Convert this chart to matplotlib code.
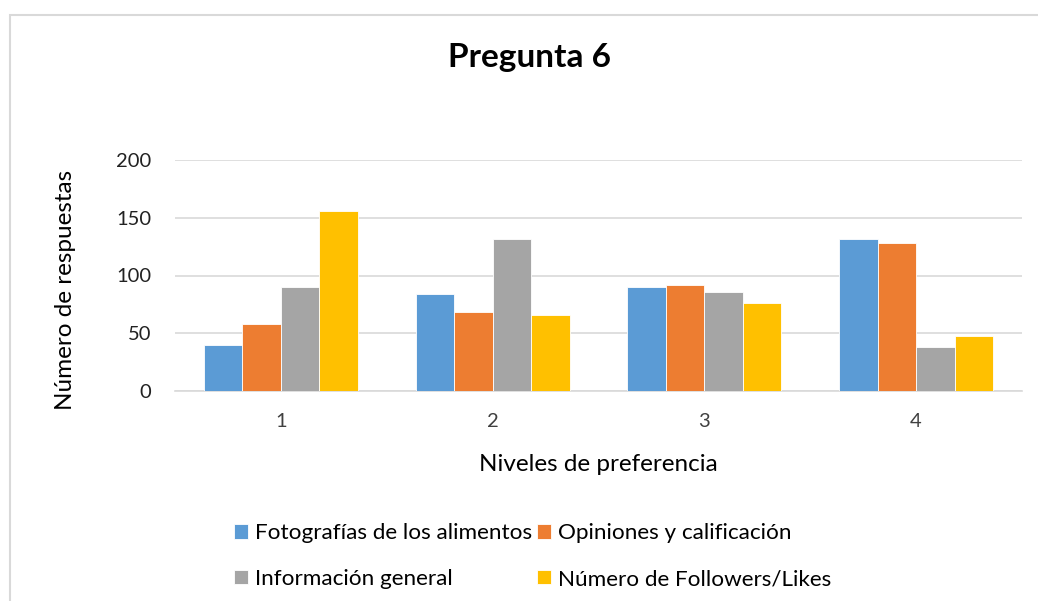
import matplotlib.pyplot as plt
import numpy as np
from matplotlib.patches import Rectangle

plt.rcParams['font.family'] = ['Lato', 'DejaVu Sans']

niveles = ['1', '2', '3', '4']
series = ['Fotografías de los alimentos', 'Opiniones y calificación',
          'Información general', 'Número de Followers/Likes']
fotografias = [40, 84, 90, 132]
opiniones = [58, 68, 92, 128]
informacion = [90, 132, 86, 38]
followers = [156, 66, 76, 48]
colores = ['#5B9BD5', '#ED7D31', '#A5A5A5', '#FFC000']

valores = [fotografias, opiniones, informacion, followers]

fig = plt.figure(figsize=(10.38, 6.01), dpi=100)
ax = fig.add_axes([175 / 1038, 1 - 391 / 601, 847 / 1038, 231 / 601])

x = np.arange(len(niveles))
w = 0.182
barras = []
for i, (vals, nombre, c) in enumerate(zip(valores, series, colores)):
    b = ax.bar(x + (i - 1.5) * w, vals, width=w, color=c, label=nombre,
               edgecolor='white', linewidth=0.6, zorder=3)
    barras.append(b)

ax.set_xlim(-0.5, 3.5)
ax.set_ylim(0, 200)
ax.set_yticks([0, 50, 100, 150, 200])
ax.set_xticks(x)
ax.set_xticklabels(niveles)
ax.grid(axis='y', color='#d9d9d9', linewidth=1.2, zorder=0)
for s in ['top', 'right', 'left']:
    ax.spines[s].set_visible(False)
ax.spines['bottom'].set_color('#d9d9d9')
ax.spines['bottom'].set_linewidth(1.2)
ax.tick_params(axis='y', length=0, pad=17, labelsize=14.5, labelcolor='#222222')
ax.tick_params(axis='x', length=0, pad=16, labelsize=14.5, labelcolor='#404040')

ax.set_ylabel('Número de respuestas', fontsize=17.5)
ax.yaxis.set_label_coords((76 - 175) / 847, (391 - 290) / 231)
ax.set_xlabel('Niveles de preferencia', fontsize=17.5, labelpad=17)

fig.text(530 / 1038, 1 - 58 / 601, 'Pregunta 6', ha='center', va='center',
         fontsize=24, fontweight='bold')

# fila por fila como en Excel
orden = [0, 2, 1, 3]
fig.legend([barras[i] for i in orden], [series[i] for i in orden],
           loc='upper left', bbox_to_anchor=(223 / 1038, 1 - 512 / 601),
           ncol=2, frameon=False, fontsize=16.2, handlelength=0.62,
           handleheight=0.62, handletextpad=0.32, columnspacing=0.2,
           labelspacing=1.15, borderpad=0)

fig.patches.append(Rectangle((9.5 / 1038, -0.01), 1.02, 1 - 14.5 / 601 + 0.01,
                             transform=fig.transFigure, fill=False,
                             edgecolor='#d9d9d9', linewidth=1.5))

fig.savefig('out.png', dpi=100)
